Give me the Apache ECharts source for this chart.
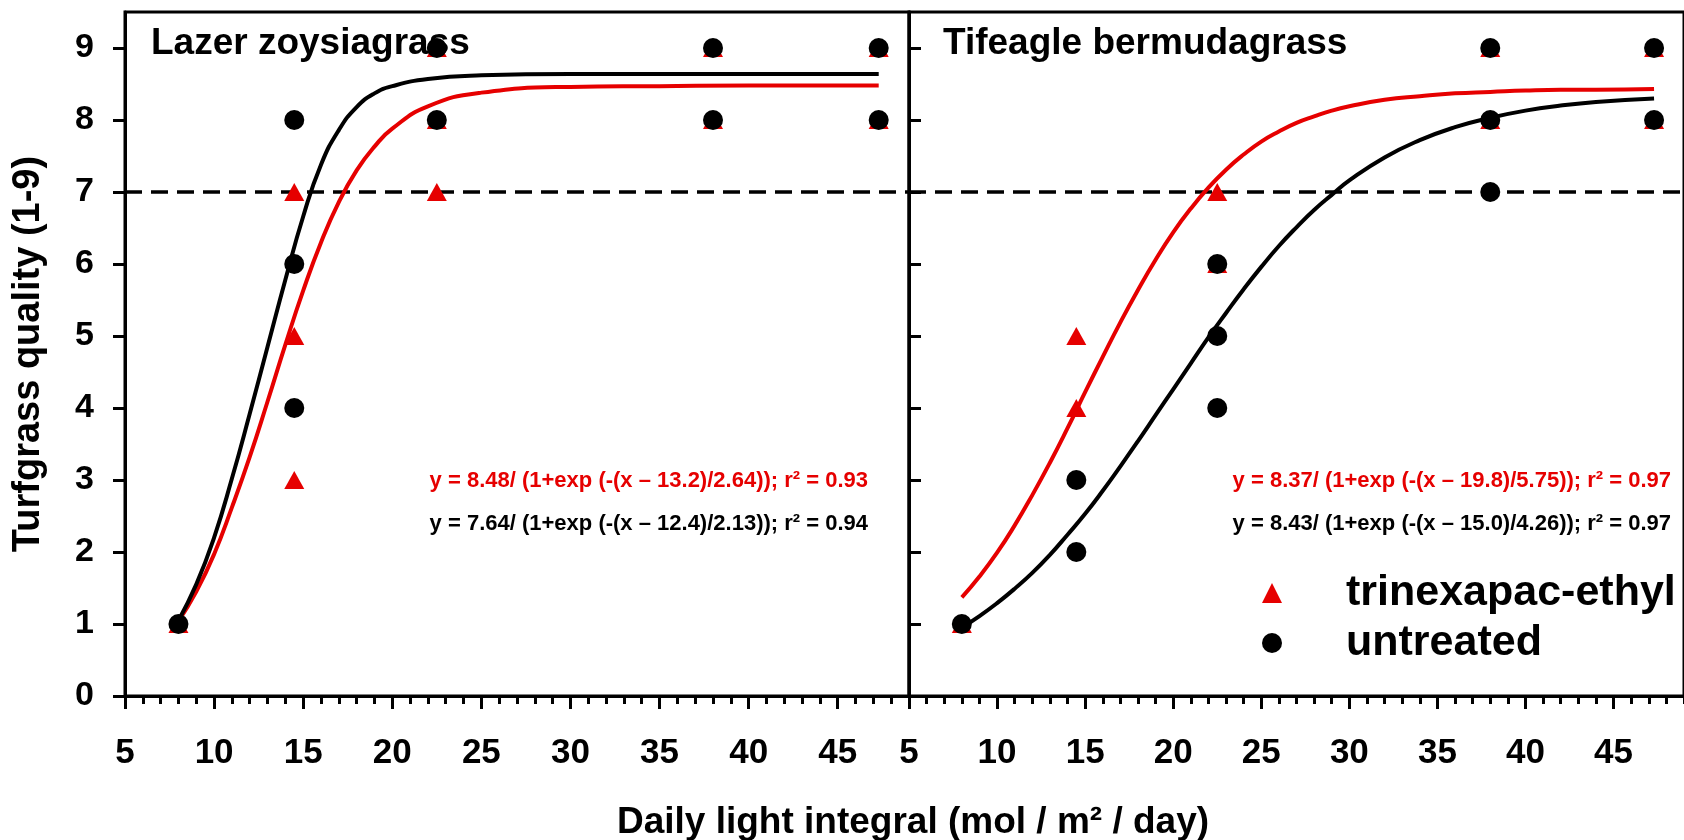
<!DOCTYPE html>
<html>
<head>
<meta charset="utf-8">
<script src="https://cdn.jsdelivr.net/npm/echarts@6/dist/echarts.min.js"></script>
<style>
html,body{margin:0;padding:0;background:#fff;}
#chart{width:1684px;height:840px;}
</style>
</head>
<body>
<div id="chart"></div>
<script>
// ---------- data ----------
const xMajorTicks = [5, 10, 15, 20, 25, 30, 35, 40, 45];
const yTicks = [0, 1, 2, 3, 4, 5, 6, 7, 8, 9];
const qualityThreshold = 7;

const panelTitles = ['Lazer zoysiagrass', 'Tifeagle bermudagrass'];
const seriesNames = ['trinexapac-ethyl', 'untreated'];
const equationsLazer = ['y = 8.48/ (1+exp (-(x \u2013 13.2)/2.64)); r\u00b2 = 0.93',
                        'y = 7.64/ (1+exp (-(x \u2013 12.4)/2.13)); r\u00b2 = 0.94'];
const equationsTifeagle = ['y = 8.37/ (1+exp (-(x \u2013 19.8)/5.75)); r\u00b2 = 0.97',
                           'y = 8.43/ (1+exp (-(x \u2013 15.0)/4.26)); r\u00b2 = 0.97'];
const yTitle = 'Turfgrass quality (1-9)';
const xTitle = 'Daily light integral (mol / m\u00b2 / day)';

// observed points [DLI, quality]
const lazerTrinexapac = [[8,1],[14.5,7],[14.5,5],[14.5,3],[22.5,9],[22.5,8],[22.5,7],[38,9],[38,8],[47.3,9],[47.3,8]];
const lazerUntreated  = [[8,1],[14.5,8],[14.5,6],[14.5,4],[22.5,9],[22.5,8],[38,9],[38,8],[47.3,9],[47.3,8]];
const tifeagleTrinexapac = [[8,1],[14.5,5],[14.5,4],[22.5,7],[22.5,6],[38,9],[38,8],[47.3,9],[47.3,8]];
const tifeagleUntreated  = [[8,1],[14.5,3],[14.5,2],[22.5,6],[22.5,5],[22.5,4],[38,9],[38,8],[38,7],[47.3,9],[47.3,8]];

// fitted curves
const lazerFitX = [8, 9, 10, 11, 12, 13, 14, 15, 16, 17, 18, 19, 20, 22, 25, 30, 35, 40, 47.3];
const lazerFitTrinexapac = [1.04, 1.45, 1.97, 2.62, 3.32, 4.09, 4.88, 5.63, 6.30, 6.86, 7.30, 7.63, 7.88, 8.19, 8.38, 8.46, 8.47, 8.48, 8.48];
const lazerFitUntreated  = [1.05, 1.55, 2.20, 3.02, 3.92, 4.85, 5.78, 6.66, 7.38, 7.86, 8.18, 8.37, 8.47, 8.57, 8.62, 8.64, 8.64, 8.64, 8.64];

const tifeagleFitX = [8, 9, 10, 11, 12, 13, 14, 15, 16, 17, 18, 19, 20, 21, 22, 23, 24, 25, 26, 27, 28, 29, 30, 32, 34, 36, 38, 40, 42, 44, 47.3];
const tifeagleFitTrinexapac = [1.37, 1.66, 1.99, 2.37, 2.79, 3.24, 3.72, 4.22, 4.71, 5.19, 5.64, 6.06, 6.44, 6.77, 7.06, 7.31, 7.52, 7.70, 7.84, 7.96, 8.05, 8.13, 8.19, 8.28, 8.33, 8.37, 8.39, 8.41, 8.42, 8.42, 8.43];
const tifeagleFitUntreated  = [0.95, 1.11, 1.29, 1.49, 1.71, 1.96, 2.24, 2.53, 2.85, 3.19, 3.54, 3.90, 4.26, 4.62, 4.98, 5.32, 5.65, 5.96, 6.25, 6.51, 6.75, 6.96, 7.16, 7.48, 7.72, 7.90, 8.03, 8.13, 8.20, 8.25, 8.30];

// ---------- chart ----------
const RED = '#e60000';
const BLACK = '#000000';
const FONT = '"Liberation Sans", Arial, Helvetica, sans-serif';

function zip(xs, ys) { return xs.map((x, i) => [x, ys[i]]); }

function majorXAxis(gridIndex) {
  return {
    type: 'value', gridIndex: gridIndex, position: 'bottom', min: 5, max: 49, interval: 5,
    axisLine: { show: true, onZero: false, lineStyle: { color: BLACK, width: 3 } },
    axisTick: { show: true, inside: false, length: 13, lineStyle: { color: BLACK, width: 3 }, customValues: xMajorTicks },
    axisLabel: { show: true, customValues: xMajorTicks, margin: 40, color: BLACK, fontSize: 35, fontWeight: 'bold', fontFamily: FONT },
    splitLine: { show: false }
  };
}
function minorXAxis(gridIndex) {
  return {
    type: 'value', gridIndex: gridIndex, position: 'bottom', offset: 0, min: 5, max: 49, interval: 1,
    axisLine: { show: false, onZero: false },
    axisTick: { show: true, inside: false, length: 8, lineStyle: { color: BLACK, width: 3 } },
    axisLabel: { show: false },
    splitLine: { show: false }
  };
}

function fitLine(name, xIdx, yIdx, xs, ys, color) {
  return { type: 'line', name: name, xAxisIndex: xIdx, yAxisIndex: yIdx, data: zip(xs, ys),
    smooth: true, showSymbol: false, lineStyle: { color: color, width: 4 }, itemStyle: { color: color }, z: 5, silent: true };
}
function dashedRef() {
  return { silent: true, symbol: ['none', 'none'], label: { show: false },
    lineStyle: { color: BLACK, width: 3.5, type: [17, 9] }, data: [{ yAxis: qualityThreshold }] };
}

const option = {
  animation: false,
  backgroundColor: '#ffffff',
  grid: [
    { left: 125, top: 12, width: 784, height: 684, show: true, borderColor: BLACK, borderWidth: 3, backgroundColor: 'transparent', containLabel: false },
    { left: 909, top: 12, width: 785, height: 684, show: true, borderColor: BLACK, borderWidth: 3, backgroundColor: 'transparent', containLabel: false }
  ],
  xAxis: [majorXAxis(0), minorXAxis(0), majorXAxis(1), minorXAxis(1)],
  yAxis: [
    {
      type: 'value', gridIndex: 0, min: 0, max: 9.5, interval: 1,
      name: yTitle, nameLocation: 'middle', nameRotate: 90, nameGap: 77,
      nameTextStyle: { color: BLACK, fontSize: 38, fontWeight: 'bold', fontFamily: FONT },
      axisLine: { show: true, onZero: false, lineStyle: { color: BLACK, width: 3 } },
      axisTick: { show: true, inside: false, length: 12, lineStyle: { color: BLACK, width: 3 }, customValues: yTicks },
      axisLabel: { show: true, customValues: yTicks, margin: 31, color: BLACK, fontSize: 34, fontWeight: 'bold', fontFamily: FONT },
      splitLine: { show: false }
    },
    {
      type: 'value', gridIndex: 1, min: 0, max: 9.5, interval: 1,
      axisLine: { show: true, onZero: false, lineStyle: { color: BLACK, width: 3 } },
      axisTick: { show: true, inside: true, length: 12, lineStyle: { color: BLACK, width: 3 }, customValues: yTicks },
      axisLabel: { show: false },
      splitLine: { show: false }
    }
  ],
  legend: {
    data: seriesNames,
    orient: 'vertical',
    left: 1262, top: 571, padding: 0,
    itemWidth: 20, itemHeight: 20, itemGap: 6,
    selectedMode: false,
    textStyle: { color: BLACK, fontSize: 43, fontWeight: 'bold', fontFamily: FONT, lineHeight: 44, padding: [0, 0, 0, 59] }
  },
  series: [
    // Lazer zoysiagrass
    fitLine('lazer fit trinexapac', 0, 0, lazerFitX, lazerFitTrinexapac, RED),
    fitLine('lazer fit untreated', 0, 0, lazerFitX, lazerFitUntreated, BLACK),
    { type: 'scatter', name: seriesNames[0], xAxisIndex: 0, yAxisIndex: 0, data: lazerTrinexapac,
      symbol: 'triangle', symbolSize: [20, 18], itemStyle: { color: RED, opacity: 1 }, z: 10, silent: true },
    { type: 'scatter', name: seriesNames[1], xAxisIndex: 0, yAxisIndex: 0, data: lazerUntreated,
      symbol: 'circle', symbolSize: 20, itemStyle: { color: BLACK, opacity: 1 }, z: 11, silent: true,
      markLine: dashedRef() },
    // Tifeagle bermudagrass
    fitLine('tifeagle fit trinexapac', 2, 1, tifeagleFitX, tifeagleFitTrinexapac, RED),
    fitLine('tifeagle fit untreated', 2, 1, tifeagleFitX, tifeagleFitUntreated, BLACK),
    { type: 'scatter', name: seriesNames[0], xAxisIndex: 2, yAxisIndex: 1, data: tifeagleTrinexapac,
      symbol: 'triangle', symbolSize: [20, 18], itemStyle: { color: RED, opacity: 1 }, z: 10, silent: true },
    { type: 'scatter', name: seriesNames[1], xAxisIndex: 2, yAxisIndex: 1, data: tifeagleUntreated,
      symbol: 'circle', symbolSize: 20, itemStyle: { color: BLACK, opacity: 1 }, z: 11, silent: true,
      markLine: dashedRef() }
  ],
  graphic: [
    { type: 'text', x: 151, y: 44, z: 1, silent: true,
      style: { text: panelTitles[0], fill: BLACK, fontSize: 37, fontWeight: 'bold', fontFamily: FONT, align: 'left', verticalAlign: 'middle' } },
    { type: 'text', x: 943, y: 44, z: 1, silent: true,
      style: { text: panelTitles[1], fill: BLACK, fontSize: 37, fontWeight: 'bold', fontFamily: FONT, align: 'left', verticalAlign: 'middle' } },
    { type: 'text', x: 868, y: 481, z: 1, silent: true,
      style: { text: equationsLazer[0], fill: RED, fontSize: 22, fontWeight: 'bold', fontFamily: FONT, align: 'right', verticalAlign: 'middle' } },
    { type: 'text', x: 868, y: 524, z: 1, silent: true,
      style: { text: equationsLazer[1], fill: BLACK, fontSize: 22, fontWeight: 'bold', fontFamily: FONT, align: 'right', verticalAlign: 'middle' } },
    { type: 'text', x: 1671, y: 481, z: 1, silent: true,
      style: { text: equationsTifeagle[0], fill: RED, fontSize: 22, fontWeight: 'bold', fontFamily: FONT, align: 'right', verticalAlign: 'middle' } },
    { type: 'text', x: 1671, y: 524, z: 1, silent: true,
      style: { text: equationsTifeagle[1], fill: BLACK, fontSize: 22, fontWeight: 'bold', fontFamily: FONT, align: 'right', verticalAlign: 'middle' } },
    { type: 'text', x: 913, y: 823, z: 1, silent: true,
      style: { text: xTitle, fill: BLACK, fontSize: 37, fontWeight: 'bold', fontFamily: FONT, align: 'center', verticalAlign: 'middle' } }
  ]
};

const chart = echarts.init(document.getElementById('chart'), null, { renderer: 'canvas' });
chart.setOption(option);
</script>
</body>
</html>
